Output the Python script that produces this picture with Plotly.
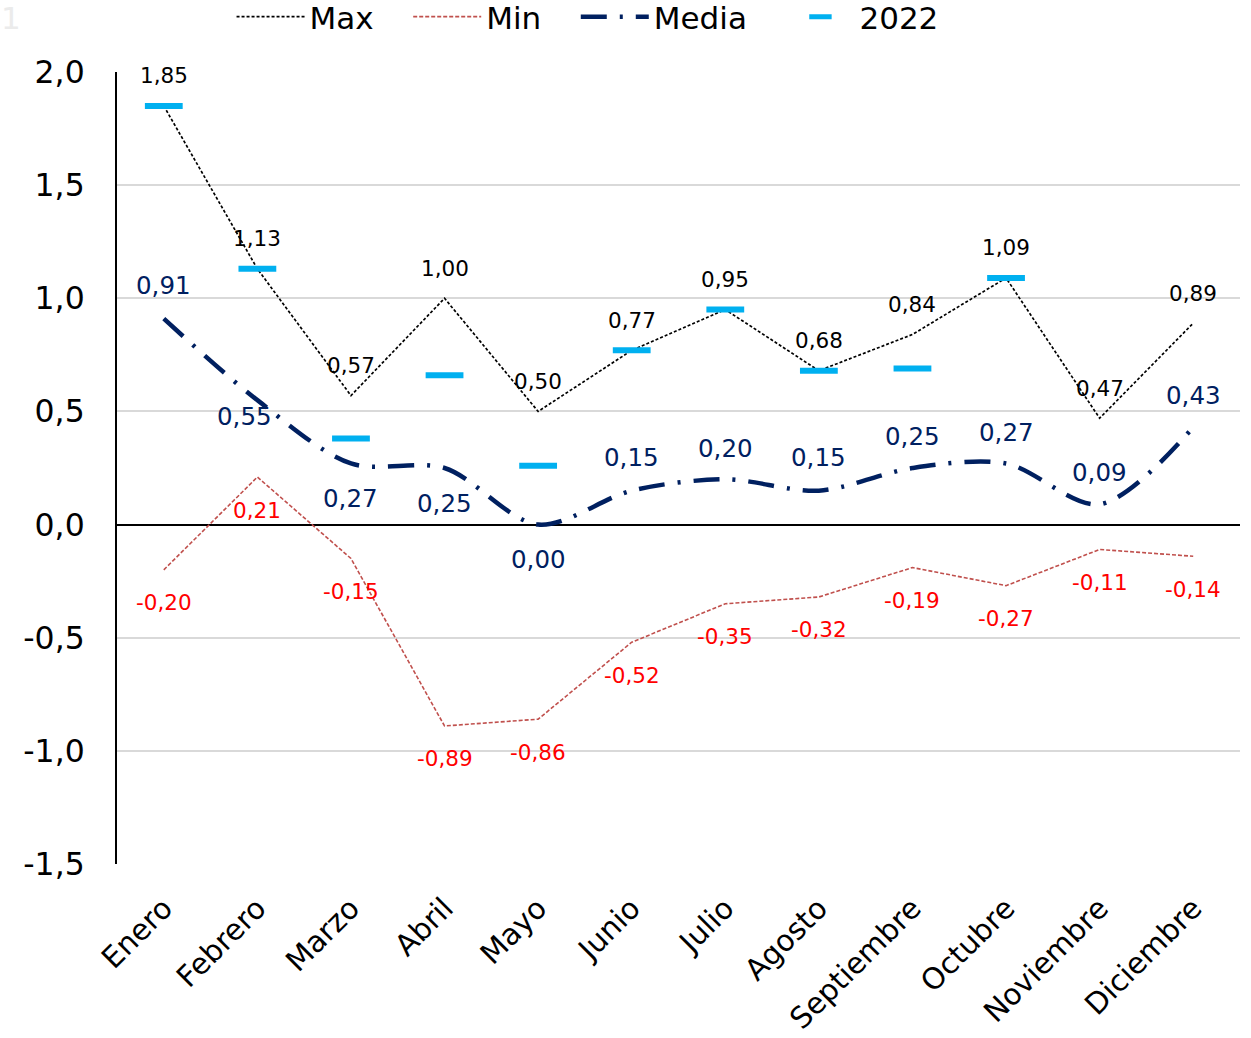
import plotly.graph_objects as go

# monthly values
meses = ["Enero", "Febrero", "Marzo", "Abril", "Mayo", "Junio", "Julio",
         "Agosto", "Septiembre", "Octubre", "Noviembre", "Diciembre"]
maximo = [1.85, 1.13, 0.57, 1.00, 0.50, 0.77, 0.95, 0.68, 0.84, 1.09, 0.47, 0.89]
minimo = [-0.20, 0.21, -0.15, -0.89, -0.86, -0.52, -0.35, -0.32, -0.19, -0.27, -0.11, -0.14]
media = [0.91, 0.55, 0.27, 0.25, 0.00, 0.15, 0.20, 0.15, 0.25, 0.27, 0.09, 0.43]
y2022 = [1.85, 1.13, 0.38, 0.66, 0.26, 0.77, 0.95, 0.68, 0.69, 1.09, None, None]
yticks = [2.0, 1.5, 1.0, 0.5, 0.0, -0.5, -1.0, -1.5]

# label offsets for the Media series (px, + is up)
media_shift = [(0, 33), (-13, -16), (0, -35), (0, -35), (0, -35), (0, 33),
               (0, 31), (0, 33), (0, 32), (0, 31), (0, 32), (0, 32)]

FONT = "DejaVu Sans"
NAVY = "#002060"
NB = "\u00a0"


def fmt(v, d=2):
    return f"{v:.{d}f}".replace(".", ",")


fig = go.Figure()
fig.add_trace(go.Scatter(x=meses, y=maximo, name="Max" + NB * 3, mode="lines",
                         line=dict(color="black", width=1.7, dash="3px,2px")))
fig.add_trace(go.Scatter(x=meses, y=minimo, name="Min" + NB * 3, mode="lines",
                         line=dict(color="#C0504D", width=1.6, dash="4px,2px")))
fig.add_trace(go.Scatter(x=meses, y=media, name="Media" + NB * 3, mode="lines",
                         line=dict(color=NAVY, width=4.5, dash="26px,13px,3px,13px",
                                   shape="spline", smoothing=0.9)))
fig.add_trace(go.Scatter(x=meses, y=y2022, name="2022", mode="markers",
                         marker=dict(symbol="line-ew", size=27,
                                     line=dict(color="#00B0F0", width=6))))

anns = []
for m, v in zip(meses, maximo):
    anns.append(dict(x=m, y=v, text=fmt(v), yshift=30, showarrow=False,
                     font=dict(size=21.5, color="black", family=FONT)))
for m, v in zip(meses, minimo):
    anns.append(dict(x=m, y=v, text=fmt(v), yshift=-33, showarrow=False,
                     font=dict(size=21.5, color="#FF0000", family=FONT)))
for m, v, (dx, dy) in zip(meses, media, media_shift):
    anns.append(dict(x=m, y=v, text=fmt(v), xshift=dx, yshift=dy, showarrow=False,
                     font=dict(size=24.5, color=NAVY, family=FONT)))
# faint slide number remnant at the top-left corner
anns.append(dict(x=0, y=1, xref="paper", yref="paper", xanchor="center", yanchor="middle",
                 xshift=-106, yshift=54, text="1", showarrow=False,
                 font=dict(size=31, color="#EBEBEB", family=FONT)))

# the page is shifted up 10px so the legend can sit close to the top edge
fig.update_layout(
    width=1251, height=1048,
    margin=dict(l=117, r=11, t=82, b=174),
    plot_bgcolor="white", paper_bgcolor="white",
    font=dict(family=FONT, color="black"),
    annotations=anns,
    showlegend=True,
    legend=dict(orientation="h", x=0.102, xanchor="left", yref="container",
                y=1.0, yanchor="top", font=dict(size=31), itemwidth=68,
                tracegroupgap=0),
    xaxis=dict(range=[-0.5, 11.5], tickangle=-45, tickfont=dict(size=29.5),
               showgrid=False, showline=False, ticks="", ticklabelstandoff=20,
               automargin=False),
    yaxis=dict(range=[-1.5, 2.0], tickvals=yticks, ticktext=[fmt(t, 1) for t in yticks],
               tickfont=dict(size=31.5), showgrid=True, gridcolor="#D9D9D9", gridwidth=2,
               zeroline=True, zerolinecolor="black", zerolinewidth=2,
               showline=True, linecolor="black", linewidth=2, ticks="",
               ticklabelstandoff=24, automargin=False),
)

fig.write_html("out.html", config={"displayModeBar": False},
               post_script="document.body.style.margin='-10px 0 0 0';")
